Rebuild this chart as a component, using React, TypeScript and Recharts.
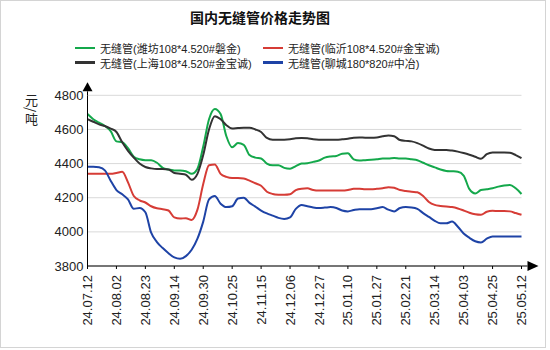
import React from "react";
import {
  LineChart,
  Line,
  XAxis,
  YAxis,
  CartesianGrid,
  usePlotArea,
} from "recharts";

const tickLabels = [
  "24.07.12", "24.08.02", "24.08.23", "24.09.14", "24.09.30", "24.10.25",
  "24.11.15", "24.12.06", "24.12.27", "25.01.10", "25.01.27", "25.02.21",
  "25.03.14", "25.04.03", "25.04.25", "25.05.12",
];

const seriesNames = [
  "无缝管(潍坊108*4.520#磐金)",
  "无缝管(临沂108*4.520#金宝诚)",
  "无缝管(上海108*4.520#金宝诚)",
  "无缝管(聊城180*820#中冶)",
];

const weifang = [
  4690, 4660, 4640, 4620, 4590, 4530, 4525, 4490, 4440, 4425,
  4420, 4420, 4405, 4375, 4365, 4360, 4360, 4355, 4340, 4370,
  4500, 4660, 4720, 4690, 4560, 4495, 4520, 4510, 4450, 4435,
  4430, 4400, 4390, 4390, 4375, 4370, 4385, 4400, 4402, 4410,
  4418, 4435, 4442, 4445, 4458, 4460, 4425, 4418, 4420, 4422,
  4425, 4430, 4430, 4432, 4430, 4430, 4425, 4420, 4405, 4390,
  4378, 4365, 4357, 4355, 4352, 4330, 4250, 4225, 4245, 4250,
  4255, 4265, 4272, 4275, 4255, 4222,
];

const linyi = [
  4340, 4340, 4340, 4340, 4340, 4345, 4352, 4290, 4210, 4185,
  4172, 4150, 4138, 4133, 4125, 4085, 4078, 4080, 4070, 4130,
  4280, 4390, 4395, 4340, 4322, 4315, 4315, 4312, 4300, 4285,
  4270, 4235, 4222, 4218, 4217, 4220, 4245, 4253, 4255, 4245,
  4242, 4242, 4242, 4242, 4242, 4245, 4252, 4253, 4250, 4250,
  4252, 4255, 4262, 4258, 4245, 4240, 4235, 4232, 4210, 4175,
  4158, 4152, 4148, 4145, 4137, 4125, 4112, 4103, 4100, 4118,
  4123, 4122, 4122, 4120, 4110, 4100,
];

const shanghai = [
  4660, 4645, 4630, 4620, 4605, 4585, 4525, 4475, 4435, 4400,
  4380, 4372, 4368, 4368, 4365, 4345, 4340, 4335, 4305, 4340,
  4450, 4600, 4678, 4660, 4625, 4605, 4608, 4610, 4610, 4600,
  4585, 4550, 4540, 4540, 4540, 4542, 4548, 4550, 4548, 4542,
  4540, 4540, 4540, 4540, 4542, 4545, 4552, 4553, 4552, 4552,
  4553, 4560, 4565, 4560, 4538, 4533, 4530, 4520, 4505, 4488,
  4480, 4480, 4480, 4476, 4470, 4462, 4452, 4440, 4428, 4455,
  4465, 4465, 4465, 4463, 4450, 4432,
];

const liaocheng = [
  4382, 4382, 4378, 4360, 4300, 4245, 4220, 4190, 4135, 4140,
  4115, 3995, 3940, 3905, 3875, 3850, 3842, 3858, 3895, 3960,
  4060, 4190, 4210, 4165, 4145, 4150, 4195, 4200, 4170, 4148,
  4125, 4108, 4095, 4082, 4076, 4085, 4135, 4158, 4150, 4143,
  4140, 4142, 4145, 4140, 4125, 4120, 4128, 4133, 4133, 4133,
  4138, 4145, 4130, 4120, 4140, 4145, 4143, 4135, 4110, 4088,
  4065, 4050, 4050, 4060, 4030, 3990, 3965, 3945, 3938, 3960,
  3973, 3973, 3973, 3973, 3973, 3973,
];

const yTicks = [3800, 4000, 4200, 4400, 4600, 4800];

// 5 data points between each labelled date
const STEP = 5;

const colors = ["#14a84b", "#d63c36", "#333333", "#1e43a6"];
const keys = ["weifang", "linyi", "shanghai", "liaocheng"];

const data = weifang.map((_, i) => ({
  i,
  weifang: weifang[i],
  linyi: linyi[i],
  shanghai: shanghai[i],
  liaocheng: liaocheng[i],
}));

const xTicks = tickLabels.map((_, k) => k * STEP);

const latin = '"Liberation Sans", Arial, "Noto Sans CJK SC", sans-serif';

function DateTick(props: any) {
  const { x, y, payload } = props;
  return (
    <text
      x={x}
      y={y}
      transform={`rotate(-90, ${x}, ${y})`}
      textAnchor="end"
      dy="0.35em"
      fontSize={13}
      fontFamily={latin}
      fill="#222"
    >
      {tickLabels[Math.round(payload.value / STEP)]}
    </text>
  );
}

function Arrows() {
  const area = usePlotArea();
  if (!area) return null;
  const left = area.x;
  const top = area.y;
  const bottom = area.y + area.height;
  const right = area.x + area.width;
  return (
    <g>
      <line x1={left} y1={top} x2={left} y2={top - 4} stroke="#000" />
      <polygon
        points={`${left},${top - 13} ${left - 5},${top - 4} ${left + 5},${top - 4}`}
        fill="#000"
      />
      <line x1={right} y1={bottom} x2={right + 6} y2={bottom} stroke="#000" />
      <polygon
        points={`${right + 17},${bottom} ${right + 6},${bottom - 5} ${right + 6},${bottom + 5}`}
        fill="#000"
      />
    </g>
  );
}

export default function App() {
  return (
    <div
      style={{
        position: "absolute",
        left: 0,
        top: 0,
        width: 544,
        height: 346,
        border: "1px solid #d4d4d4",
        background: "#fff",
      }}
    >
      <div
        style={{
          position: "absolute",
          left: 0,
          top: 6,
          width: 518,
          textAlign: "center",
          fontFamily: '"Noto Sans CJK SC", sans-serif',
          fontWeight: "bold",
          fontSize: 14,
          lineHeight: "20px",
          color: "#111",
        }}
      >
        国内无缝管价格走势图
      </div>

      {seriesNames.map((name, s) => {
        const col = s % 2;
        const row = s < 2 ? 0 : 1;
        return (
          <div
            key={s}
            style={{
              position: "absolute",
              left: col === 0 ? 74 : 262,
              top: 39 + row * 14.5,
              height: 16,
              display: "flex",
              alignItems: "center",
              fontFamily: latin,
              fontSize: 11,
              color: "#222",
              whiteSpace: "nowrap",
            }}
          >
            <span
              style={{
                display: "inline-block",
                width: 20,
                height: 2.5,
                background: colors[s],
                marginRight: 5,
              }}
            />
            {name}
          </div>
        );
      })}

      <div
        style={{
          position: "absolute",
          left: 22,
          top: 93,
          writingMode: "vertical-rl",
          fontFamily: '"Noto Sans CJK SC", sans-serif',
          fontSize: 13,
          lineHeight: "16px",
          color: "#222",
        }}
      >
        元/吨
      </div>

      <div style={{ position: "absolute", left: 0, top: 0 }}>
        <LineChart
          width={544}
          height={346}
          data={data}
          margin={{ top: 94.3, right: 23.5, bottom: 21, left: 26.5 }}
        >
          <CartesianGrid vertical={false} stroke="#d9d9d9" />
          <XAxis
            dataKey="i"
            type="number"
            domain={[0, weifang.length - 1]}
            ticks={xTicks}
            interval={0}
            height={60}
            tickSize={3}
            tickMargin={6}
            stroke="#000"
            tick={<DateTick />}
          />
          <YAxis
            domain={[3800, 4800]}
            ticks={yTicks}
            width={60}
            tickLine={false}
            tickSize={2}
            tickMargin={2}
            stroke="#000"
            tick={{ fontSize: 13, fontFamily: latin, fill: "#222" }}
          />
          {keys.map((k, s) => (
            <Line
              key={k}
              type="monotone"
              dataKey={k}
              stroke={colors[s]}
              strokeWidth={2}
              dot={false}
              isAnimationActive={false}
            />
          ))}
          <Arrows />
        </LineChart>
      </div>
    </div>
  );
}
